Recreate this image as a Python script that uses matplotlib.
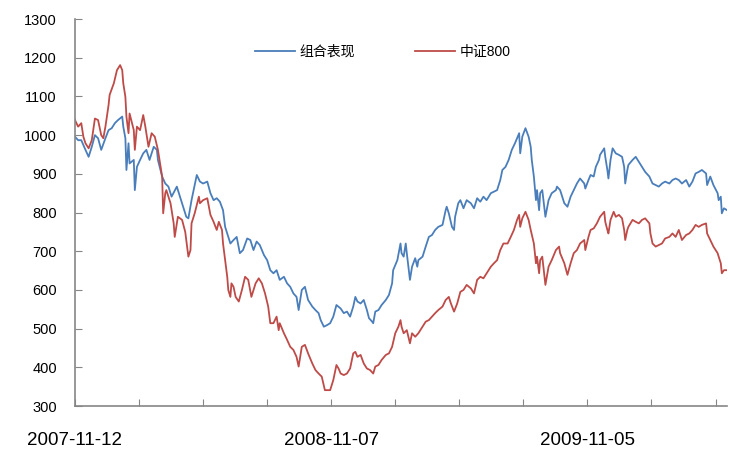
import matplotlib
matplotlib.use("Agg")
import matplotlib.pyplot as plt

plt.rcParams['font.family'] = ['Liberation Sans', 'Noto Sans CJK SC']

# trading-day offsets from 2007-11-12 and index levels
blue_days = [0, 3, 6, 10, 13, 16, 19, 22, 25, 29, 32, 35, 38, 41, 45, 46, 48, 49, 51, 52,
             56, 57, 59, 62, 65, 68, 71, 75, 78, 79, 83, 86, 89, 92, 97, 100, 103, 106, 108, 111,
             116, 119, 122, 126, 129, 132, 135, 138, 141, 143, 145, 148, 151, 154, 157, 160, 164, 167, 170, 173,
             176, 180, 183, 186, 189, 192, 195, 199, 202, 205, 208, 211, 213, 216, 219, 222, 226, 229, 232, 234,
             237, 240, 243, 246, 249, 253, 256, 259, 262, 265, 267, 269, 272, 275, 278, 280, 283, 284, 286, 289,
             292, 296, 299, 302, 303, 307, 310, 311, 313, 315, 316, 319, 321, 324, 326, 327, 331, 334, 337, 340,
             343, 346, 350, 353, 354, 356, 359, 361, 362, 365, 367, 370, 373, 377, 380, 383, 386, 389, 392, 396,
             399, 402, 405, 407, 410, 413, 416, 419, 423, 424, 426, 429, 432, 434, 435, 437, 439, 440, 442, 443,
             445, 448, 451, 454, 458, 459, 462, 466, 469, 472, 475, 478, 481, 485, 486, 489, 491, 494, 496, 499,
             500, 504, 505, 507, 508, 510, 512, 515, 518, 521, 523, 524, 526, 527, 531, 534, 537, 540, 543, 547,
             550, 553, 556, 559, 562, 566, 569, 572, 575, 578, 582, 585, 588, 591, 594, 597, 601, 602, 605, 608,
             612, 613, 615, 616, 618, 621]
blue_vals = [996, 987, 987, 962, 944, 970, 1000, 992, 962, 992, 1013, 1018, 1031, 1039, 1048, 1022, 992, 910, 979, 927,
             936, 858, 918, 936, 953, 962, 936, 970, 962, 936, 893, 875, 867, 841, 867, 841, 815, 789, 785, 832,
             897, 880, 875, 880, 850, 832, 837, 828, 806, 763, 746, 720, 729, 737, 695, 703, 733, 729, 703, 725,
             716, 690, 677, 651, 643, 651, 626, 634, 617, 608, 591, 582, 548, 600, 608, 574, 557, 548, 540, 522,
             505, 509, 514, 531, 561, 552, 540, 544, 531, 557, 582, 570, 565, 574, 548, 527, 518, 514, 544, 548,
             561, 574, 587, 617, 651, 677, 720, 695, 686, 720, 695, 626, 660, 682, 660, 677, 686, 712, 737, 742,
             755, 763, 768, 806, 815, 798, 763, 755, 789, 824, 832, 811, 832, 824, 811, 837, 828, 841, 832, 850,
             854, 858, 884, 910, 918, 936, 962, 979, 1005, 953, 996, 1018, 996, 970, 936, 893, 832, 858, 806, 850,
             858, 789, 832, 850, 858, 867, 858, 824, 815, 841, 858, 875, 888, 875, 862, 884, 897, 893, 918, 936,
             949, 966, 944, 910, 888, 936, 966, 953, 949, 944, 918, 875, 910, 923, 936, 944, 931, 918, 905, 893,
             875, 871, 867, 875, 880, 875, 884, 888, 884, 875, 884, 867, 880, 901, 905, 910, 901, 871, 893, 871,
             850, 832, 841, 798, 811, 806]

red_days = [0, 3, 6, 8, 10, 13, 16, 19, 22, 25, 27, 29, 32, 33, 37, 40, 43, 45, 46, 48,
            49, 51, 52, 56, 57, 59, 62, 65, 67, 70, 73, 76, 79, 83, 84, 86, 87, 91, 94, 95,
            98, 102, 105, 108, 110, 111, 114, 118, 119, 122, 126, 129, 132, 135, 137, 140, 141, 143, 145, 146,
            148, 149, 151, 153, 156, 159, 162, 165, 168, 172, 175, 178, 181, 184, 186, 189, 192, 194, 195, 199,
            202, 205, 208, 211, 213, 216, 219, 222, 226, 229, 232, 235, 238, 241, 243, 246, 249, 251, 253, 256,
            259, 262, 265, 267, 269, 272, 275, 278, 281, 284, 286, 289, 292, 296, 299, 302, 305, 308, 310, 311,
            313, 316, 319, 321, 324, 327, 331, 334, 337, 340, 343, 346, 350, 353, 356, 358, 361, 364, 367, 370,
            373, 377, 380, 383, 386, 389, 392, 396, 399, 402, 405, 408, 412, 415, 418, 421, 423, 424, 426, 429,
            432, 434, 437, 439, 440, 442, 443, 445, 448, 451, 454, 458, 461, 462, 466, 469, 472, 475, 478, 481,
            485, 486, 489, 491, 494, 497, 500, 504, 505, 507, 508, 510, 513, 515, 518, 521, 523, 524, 526, 527,
            531, 534, 537, 540, 543, 547, 548, 550, 553, 556, 559, 562, 566, 569, 572, 575, 578, 582, 585, 588,
            591, 594, 597, 601, 602, 605, 608, 612, 613, 615, 616, 618, 621]
red_vals = [1039, 1022, 1031, 996, 979, 966, 987, 1043, 1039, 1000, 992, 1022, 1078, 1104, 1134, 1168, 1181, 1168, 1134, 1099,
            1048, 1005, 1056, 1013, 962, 1022, 1013, 1052, 1022, 970, 1005, 996, 962, 893, 798, 850, 858, 824, 772, 737,
            789, 781, 750, 686, 703, 772, 798, 841, 824, 832, 837, 794, 776, 755, 776, 755, 720, 677, 634, 600,
            582, 617, 608, 582, 570, 600, 634, 626, 582, 617, 630, 617, 591, 557, 514, 514, 531, 496, 514, 488,
            471, 453, 445, 427, 402, 453, 458, 436, 410, 393, 384, 376, 341, 341, 341, 367, 406, 397, 384, 380,
            384, 397, 436, 440, 427, 432, 410, 397, 393, 384, 402, 406, 419, 432, 436, 453, 488, 505, 522, 505,
            488, 496, 462, 488, 479, 488, 505, 518, 522, 531, 540, 548, 557, 574, 582, 565, 544, 565, 595, 600,
            613, 604, 591, 626, 634, 630, 643, 660, 669, 677, 703, 720, 720, 737, 755, 781, 794, 763, 785, 802,
            781, 755, 720, 669, 686, 643, 677, 686, 613, 660, 677, 703, 712, 695, 669, 639, 669, 695, 703, 720,
            729, 703, 737, 755, 759, 772, 789, 802, 776, 755, 746, 781, 802, 789, 794, 785, 755, 729, 755, 763,
            781, 776, 772, 781, 785, 772, 746, 720, 712, 716, 720, 733, 737, 746, 737, 755, 729, 742, 746, 755,
            768, 763, 768, 772, 746, 729, 712, 695, 686, 669, 643, 651, 651]

tick_step = 61
label_days = [0, 244, 488]
label_text = ['2007-11-12', '2008-11-07', '2009-11-05']

fig = plt.figure(figsize=(7.3, 4.54), dpi=100)
ax = fig.add_axes([0.1027, 0.1057, 0.8933, 0.8523])

ax.plot(blue_days, blue_vals, color='#4a7ebb', lw=1.3, label='组合表现')
ax.plot(red_days, red_vals, color='#be4b48', lw=1.3, label='中证800')

ax.set_ylim(300, 1300)
ax.set_yticks(range(300, 1301, 100))
ax.set_xlim(0, 621)
ticks = list(range(0, 621, tick_step))
ax.set_xticks(ticks)
ax.set_xticklabels([label_text[label_days.index(t)] if t in label_days else '' for t in ticks])

for side in ['top', 'right']:
    ax.spines[side].set_visible(False)
for side in ['left', 'bottom']:
    ax.spines[side].set_color('#868686')
    ax.spines[side].set_linewidth(1.2)

ax.tick_params(axis='y', direction='in', length=5, color='#868686', labelsize=10.5, pad=13)
ax.tick_params(axis='x', direction='in', length=5, color='#868686', labelsize=13.5, pad=19)

ax.legend(loc='center', bbox_to_anchor=(0.472, 0.915), ncol=2, frameon=False,
          fontsize=10, handlelength=2.9, columnspacing=4.3, handletextpad=0.3)

fig.savefig('out.png', dpi=100)
